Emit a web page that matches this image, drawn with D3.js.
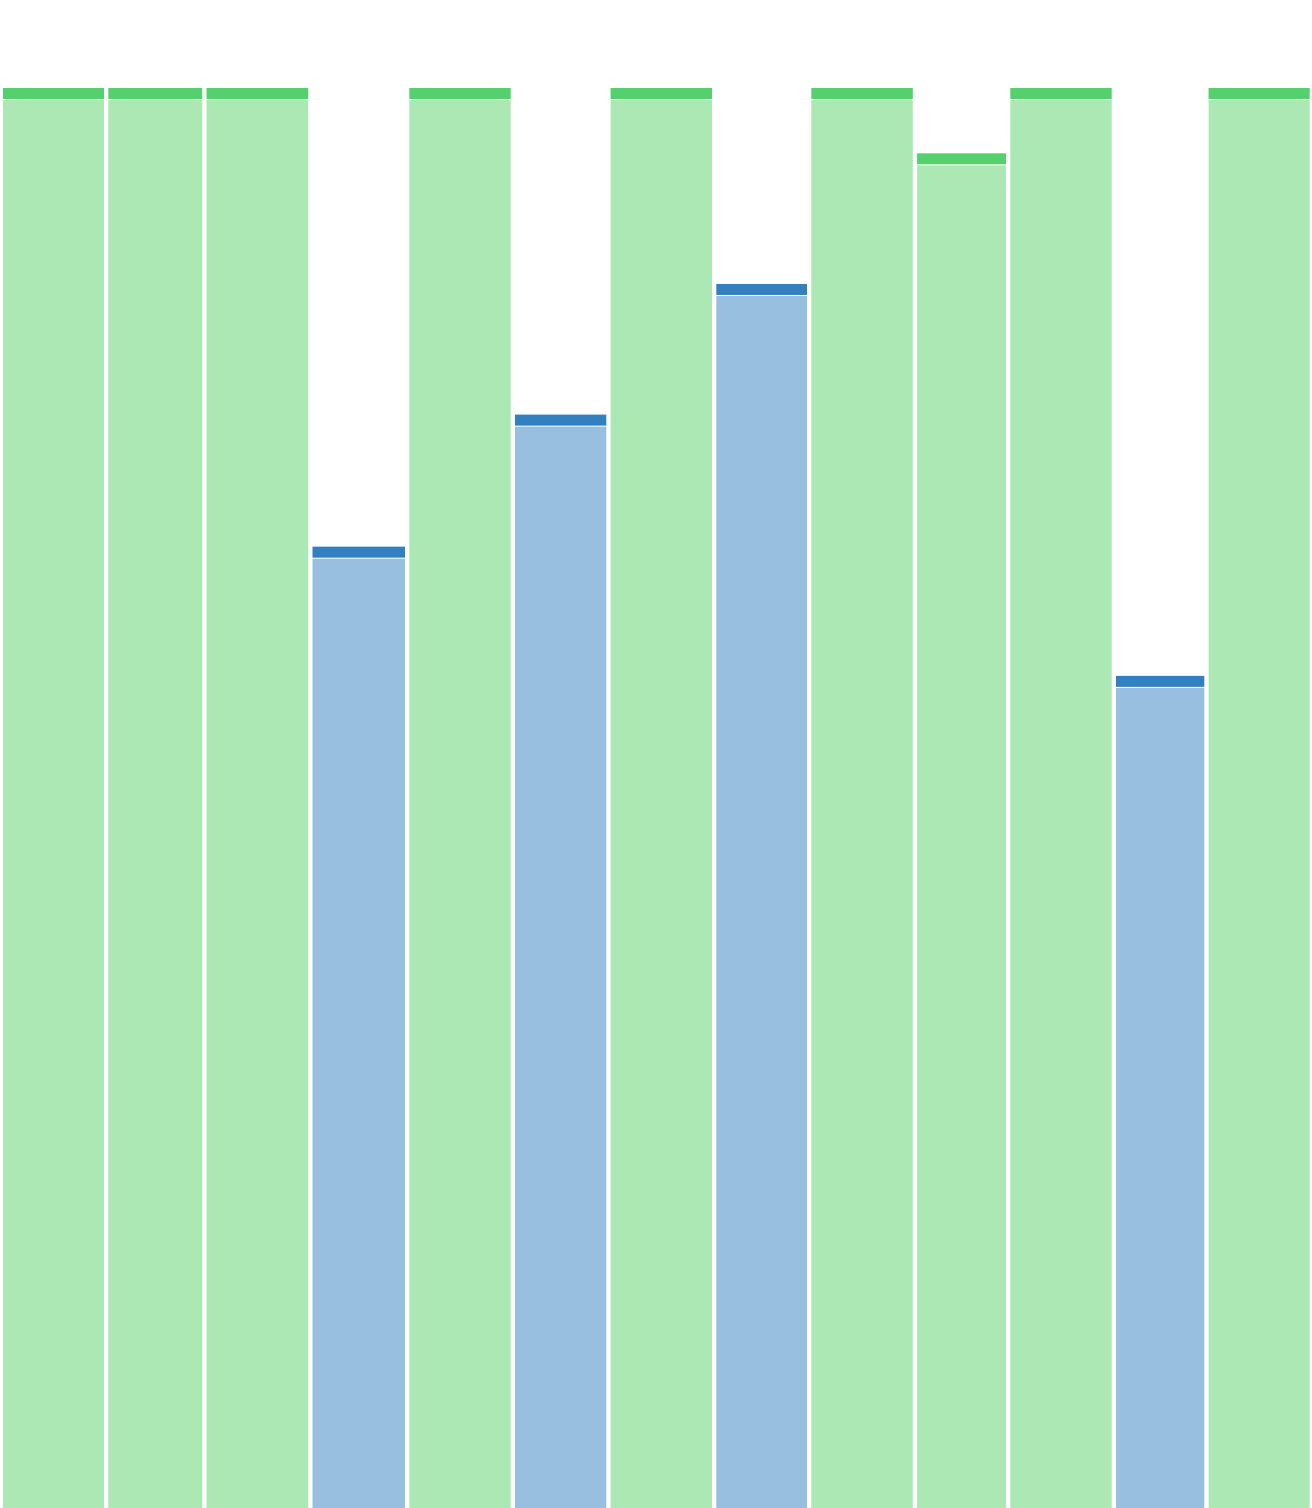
<!DOCTYPE html>
<html>
<head>
<meta charset="utf-8">
<script src="https://cdn.jsdelivr.net/npm/d3@7"></script>
<style>
  html, body { margin: 0; padding: 0; background: #fff; }
  svg { display: block; }
</style>
</head>
<body>
<div id="chart"></div>
<script>
// chart data
const categories = ["c1", "c2", "c3", "c4", "c5", "c6", "c7", "c8", "c9", "c10", "c11", "c12", "c13"];
const groups = ["green", "green", "green", "blue", "green", "blue", "green", "blue", "green", "green", "green", "blue", "green"];
const widths = [105.3, 98.2, 106, 96.8, 105.7, 95.6, 105.7, 95, 105.8, 93.2, 105.7, 92.6, 105.4];
const values = [100, 100, 100, 67.7, 100, 77.0, 100, 86.2, 100, 95.4, 100, 58.6, 100];

const W = 1312, H = 1508;
const capColor = {green: "#54d06c", blue: "#3380c0"};
const bodyColor = {green: "#abe8b4", blue: "#99bfe0"};

const rows = categories.map((c, i) => ({
  cat: c, group: groups[i], w: widths[i], value: values[i]
}));
let acc = 0;
rows.forEach(d => { d.x0 = acc; acc += d.w; d.x1 = acc; });

const x = d3.scaleLinear().domain([0, acc]).range([1, W]);
const y = d3.scaleLinear().domain([0, 100]).range([H, 88]);

const svg = d3.select("#chart").append("svg")
    .attr("width", W)
    .attr("height", H);

const bar = svg.selectAll(".bar")
    .data(rows)
  .enter().append("g")
    .attr("class", "bar");

// the light body of each bar
bar.append("rect")
    .attr("x", d => x(d.x0) + 2)
    .attr("width", d => x(d.x1) - x(d.x0) - 4.3)
    .attr("y", d => y(d.value) + 12)
    .attr("height", d => H - y(d.value) - 12)
    .attr("fill", d => bodyColor[d.group]);

// darker cap on top
bar.append("rect")
    .attr("x", d => x(d.x0) + 2)
    .attr("width", d => x(d.x1) - x(d.x0) - 4.3)
    .attr("y", d => y(d.value))
    .attr("height", 11)
    .attr("fill", d => capColor[d.group]);
</script>
</body>
</html>
